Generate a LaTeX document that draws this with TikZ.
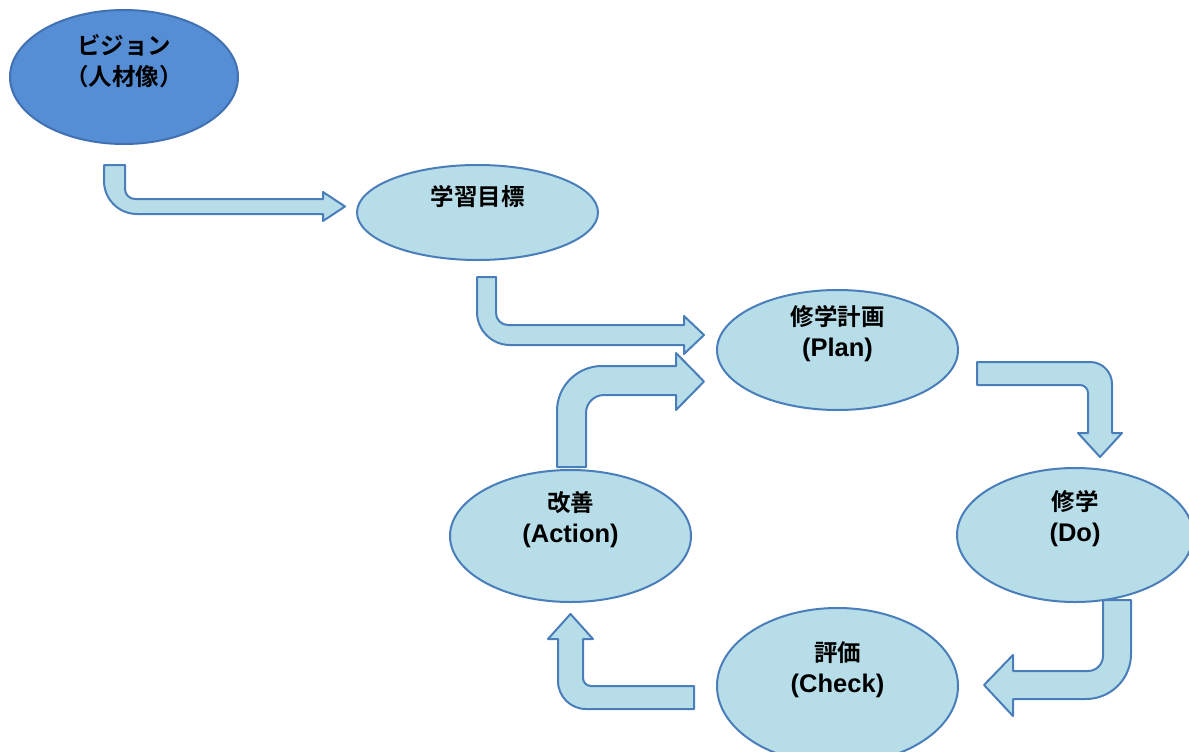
\documentclass[tikz,border=0pt]{standalone}
\usepackage{fontspec}
\newfontfamily\jpfont{Noto Sans CJK JP}[BoldFont={Noto Sans CJK JP Bold}]
\newfontfamily\latinfont{Liberation Sans}
\newcommand{\lat}[1]{{\latinfont\bfseries\fontsize{25.5}{31}\selectfont #1}}
\usetikzlibrary{shapes.geometric}
\definecolor{edgeblue}{RGB}{74,126,187}
\definecolor{lightfill}{RGB}{183,221,232}
\definecolor{darkfill}{RGB}{85,142,213}
\definecolor{darkedge}{RGB}{65,113,178}

\begin{document}
\begin{tikzpicture}[
						x=1pt, y=-1pt,
						phase/.style = {draw=edgeblue, fill=lightfill, ellipse, line width=2pt, inner sep=0pt},
						vision/.style = {draw=darkedge, fill=darkfill, ellipse, line width=2pt, inner sep=0pt},
						lbl/.style = {font=\jpfont\bfseries\fontsize{23.5}{31}\selectfont, align=center, yshift=16pt},
						fat/.style = {draw=edgeblue, fill=lightfill, line width=2pt, line join=round}
					]
\useasboundingbox (0,0) rectangle (1189,752);

% ellipses
\node[vision, minimum width=228pt, minimum height=134pt] (vis) at (124,77) {};
\node[phase, minimum width=241pt, minimum height=95pt] (goal) at (477.5,212.5) {};
\node[phase, minimum width=241pt, minimum height=120pt] (plan) at (837.5,350) {};
\node[phase, minimum width=236pt, minimum height=134pt] (do) at (1075,535) {};
\node[phase, minimum width=241pt, minimum height=156pt] (check) at (837.5,686) {};
\node[phase, minimum width=241pt, minimum height=132pt] (act) at (570.5,536) {};

% texts
\node[lbl] (vistxt) at (vis) {ビジョン\\（人材像）};
\node[lbl] (goaltxt) at (goal) {学習目標};
\node[lbl] (plantxt) at (plan) {修学計画\\\lat{(Plan)}};
\node[lbl] (dotxt) at (do) {修学\\\lat{(Do)}};
\node[lbl] (checktxt) at (check) {評価\\\lat{(Check)}};
\node[lbl] (acttxt) at (act) {改善\\\lat{(Action)}};

% vision -> goal
\draw[fat] (104,165) -- (125,165) -- (125,189) arc[start angle=180, end angle=90, radius=10]
	-- (323,199) -- (323,192) -- (345,206.5) -- (323,221) -- (323,214)
	-- (137,214) arc[start angle=90, end angle=180, radius=33] -- cycle;
% goal -> plan
\draw[fat] (477,277) -- (496,277) -- (496,313) arc[start angle=180, end angle=90, radius=12]
	-- (684,325) -- (684,316) -- (704,335) -- (684,354) -- (684,345)
	-- (510,345) arc[start angle=90, end angle=180, radius=33] -- cycle;
% action -> plan
\draw[fat] (557,467) -- (557,411) arc[start angle=180, end angle=270, radius=45]
	-- (676,366) -- (676,353) -- (704,381.5) -- (676,410) -- (676,395)
	-- (604,395) arc[start angle=270, end angle=180, radius=18] -- (586,467) -- cycle;
% plan -> do
\draw[fat] (977,362) -- (1090,362) arc[start angle=270, end angle=360, radius=22]
	-- (1112,433) -- (1122,433) -- (1100,457) -- (1078,433) -- (1088,433)
	-- (1088,393) arc[start angle=0, end angle=-90, radius=8] -- (977,385) -- cycle;
% do -> check
\draw[fat] (1103,600) -- (1131,600) -- (1131,654) arc[start angle=0, end angle=90, radius=45]
	-- (1013,699) -- (1013,716) -- (984,685) -- (1013,655) -- (1013,671)
	-- (1088,671) arc[start angle=90, end angle=0, radius=15] -- cycle;
% check -> action
\draw[fat] (694,686) -- (591,686) arc[start angle=90, end angle=180, radius=8]
	-- (583,639) -- (593,639) -- (570.5,614) -- (548,639) -- (558,639)
	-- (558,681) arc[start angle=180, end angle=90, radius=28] -- (694,709) -- cycle;
\end{tikzpicture}
\end{document}
